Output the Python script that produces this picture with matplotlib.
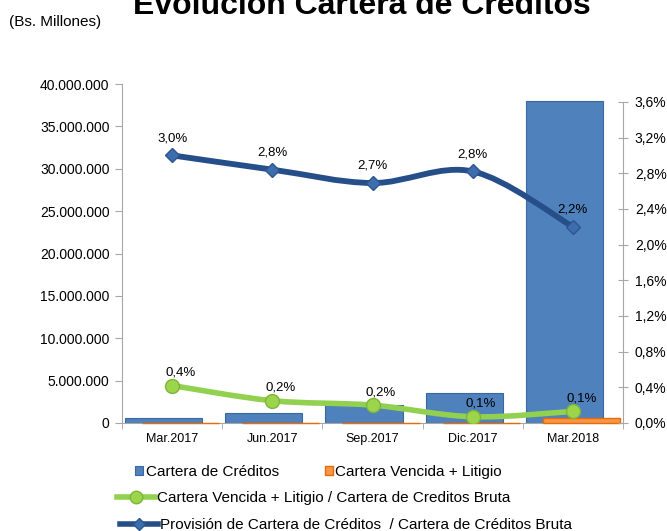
import numpy as np
import matplotlib
matplotlib.use("Agg")
import matplotlib.pyplot as plt
from matplotlib.path import Path
from matplotlib.patches import PathPatch
from matplotlib.lines import Line2D
from matplotlib.ticker import FuncFormatter, MultipleLocator, FixedLocator

plt.rcParams['font.family'] = ['Liberation Sans', 'DejaVu Sans']

# datos
periodos = ['Mar.2017', 'Jun.2017', 'Sep.2017', 'Dic.2017', 'Mar.2018']
cartera = [640000, 1180000, 2110000, 3580000, 38000000]
vencida = [20000, 25000, 30000, 30000, 550000]
ratio_vencida = [0.0042, 0.0025, 0.0020, 0.0007, 0.0013]
ratio_provision = [0.0300, 0.0284, 0.0269, 0.0282, 0.0220]

GRIS = '#A6A6A6'
AZUL = '#4F81BD'
NARANJA = '#F79646'
VERDE = '#92D050'
AZUL_OSC = '#264F8A'


def pct(v, pos=None):
    return f"{v * 100:.1f}%".replace('.', ',')


def curva_suave(xs, ys):
    # curva suavizada tipo Excel (Catmull-Rom -> Bezier)
    pts = np.column_stack([xs, ys]).astype(float)
    ext = np.vstack([pts[0], pts, pts[-1]])
    verts = [pts[0]]
    codes = [Path.MOVETO]
    for i in range(len(pts) - 1):
        p0, p1, p2, p3 = ext[i], ext[i + 1], ext[i + 2], ext[i + 3]
        verts += [p1 + (p2 - p0) / 6, p2 - (p3 - p1) / 6, p2]
        codes += [Path.CURVE4] * 3
    return Path(verts, codes)


fig = plt.figure(figsize=(6.67, 5.31), dpi=100)
ax = fig.add_axes([122 / 667, 1 - 423 / 531, 501 / 667, 339 / 531])
x = np.arange(len(periodos))

b1 = ax.bar(x - 0.085, cartera, 0.77, color=AZUL, edgecolor='#3A679E', lw=0.8, zorder=2)
b2 = ax.bar(x + 0.085, vencida, 0.77, color=NARANJA, edgecolor='#E46C0A', lw=1, zorder=3,
            clip_on=False)

ax.set_xlim(-0.5, len(periodos) - 0.5)
ax.set_ylim(0, 40000000)
ax.yaxis.set_major_locator(MultipleLocator(5000000))
ax.yaxis.set_major_formatter(FuncFormatter(lambda v, p: f"{int(v):,}".replace(',', '.')))
ax.set_xticks(x)
ax.set_xticklabels(periodos, fontsize=9)
ax.xaxis.set_minor_locator(FixedLocator(np.arange(-0.5, len(periodos), 1.0)))
ax.tick_params(axis='x', which='major', length=0, pad=7)
ax.tick_params(axis='x', which='minor', length=4, color=GRIS, direction='out')
ax.tick_params(axis='y', labelsize=10, length=5, color=GRIS, pad=4)
for s in ['top', 'right']:
    ax.spines[s].set_visible(False)
for s in ['left', 'bottom']:
    ax.spines[s].set_color(GRIS)

ax2 = ax.twinx()
ax2.set_ylim(0, 0.038)
ax2.yaxis.set_major_locator(FixedLocator(np.arange(0, 0.0361, 0.004)))
ax2.yaxis.set_major_formatter(FuncFormatter(pct))
ax2.tick_params(axis='y', labelsize=10, length=7, direction='inout', color=GRIS, pad=5)
for s in ['top', 'left', 'bottom']:
    ax2.spines[s].set_visible(False)
ax2.spines['right'].set_color(GRIS)
ax2.spines['right'].set_bounds(0, 0.036)

ax2.add_patch(PathPatch(curva_suave(x, ratio_provision), fill=False, edgecolor=AZUL_OSC,
                        lw=4.2, capstyle='round', joinstyle='round', zorder=3))
ax2.plot(x, ratio_provision, ls='none', marker='D', ms=7, mfc='#3E6DAD', mec='#2D5591', zorder=4)
ax2.add_patch(PathPatch(curva_suave(x, ratio_vencida), fill=False, edgecolor=VERDE,
                        lw=4, capstyle='round', joinstyle='round', zorder=3))
ax2.plot(x, ratio_vencida, ls='none', marker='o', ms=10, mfc='#9CD54C', mec='#7DB53A', zorder=4)

for xi, v in zip(x, ratio_provision):
    ax2.annotate(pct(v), (xi, v), xytext=(0, 8), textcoords='offset points',
                 ha='center', va='bottom', fontsize=9.5)
for xi, v in zip(x, ratio_vencida):
    ax2.annotate(pct(v), (xi, v), xytext=(6, 5), textcoords='offset points',
                 ha='center', va='bottom', fontsize=9.5)

# titulos
fig.text(362 / 667, 1 - 14 / 531, 'Evolución Cartera de Créditos', ha='center',
         va='baseline', fontsize=23, fontweight='bold')
fig.text(9 / 667, 1 - 22 / 531, '(Bs. Millones)', ha='left', va='center', fontsize=11)

# leyendas
leg_kw = dict(loc='center left', frameon=False, borderpad=0, borderaxespad=0, fontsize=11)
fig.legend([b1, b2], ['Cartera de Créditos', 'Cartera Vencida + Litigio'],
           bbox_to_anchor=(135 / 667, 1 - 472 / 531), ncol=2, handlelength=0.55,
           handleheight=0.55, handletextpad=0.15, columnspacing=3.0, **leg_kw)
h_verde = Line2D([0], [0], color=VERDE, lw=4, marker='o', ms=9, mfc='#9CD54C', mec='#7DB53A')
fig.legend([h_verde], ['Cartera Vencida + Litigio / Cartera de Creditos Bruta'],
           bbox_to_anchor=(117 / 667, 1 - 498 / 531), handlelength=2.5,
           handletextpad=0.15, **leg_kw)
h_azul = Line2D([0], [0], color=AZUL_OSC, lw=4, marker='D', ms=6, mfc='#3E6DAD', mec='#2D5591')
fig.legend([h_azul], ['Provisión de Cartera de Créditos  / Cartera de Créditos Bruta'],
           bbox_to_anchor=(120 / 667, 1 - 525 / 531), handlelength=2.5,
           handletextpad=0.1, **leg_kw)

fig.savefig("out.png", dpi=100)
